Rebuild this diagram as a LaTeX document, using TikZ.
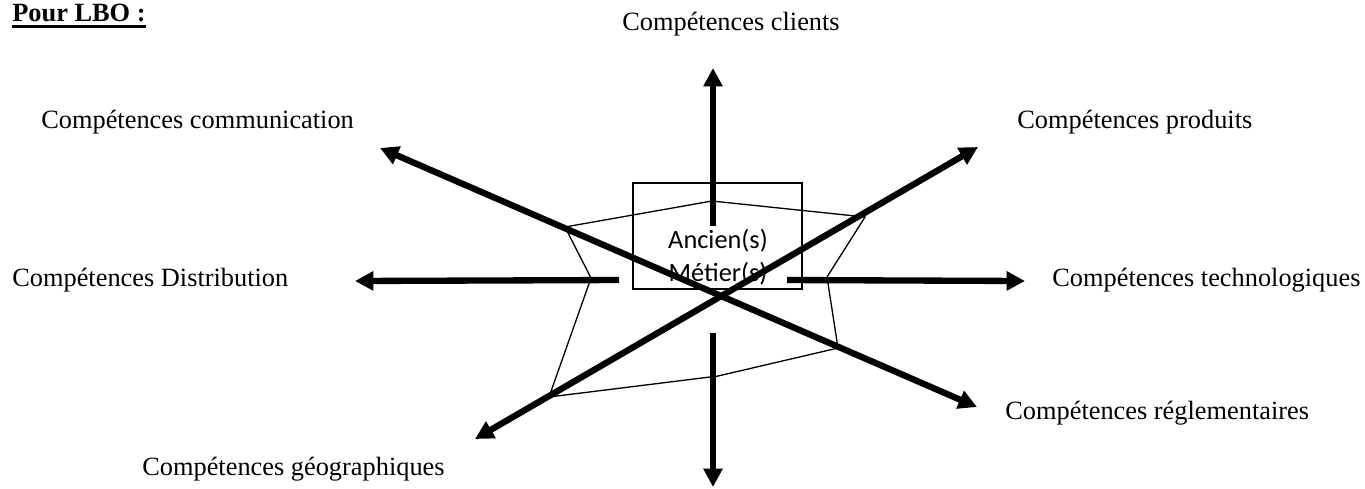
\documentclass[tikz,border=0pt]{standalone}
\usepackage{fontspec}
\setmainfont{Liberation Serif}
\newfontfamily\calibrifont{Carlito}
\usepackage{tikz}
\usetikzlibrary{arrows.meta}
\tikzstyle{skill} = [inner sep=0pt, anchor=base west, font=\fontsize{15}{18}\selectfont]
\tikzstyle{jobtext} = [inner sep=0pt, anchor=base, font=\calibrifont\fontsize{15}{18}\selectfont]
\tikzset{
  % line styles
  tip/.tip={Triangle[length=10.5pt,width=10.5pt]},
  axis/.style={line width=3.6pt, -tip},
  axes/.style={line width=3.6pt, tip-tip},
  web/.style={line width=0.75pt, line join=miter},
  % node styles
  oldjob/.style={draw, line width=0.7pt, minimum width=3.38cm, minimum height=2.12cm, inner sep=0pt},
}
\begin{document}
\begin{tikzpicture}[x=0.02cm, y=-0.02cm]
        \useasboundingbox (0,0) rectangle (1365,488);
        % title
        \node(title)[skill, font=\fontsize{15}{18}\selectfont\bfseries] at (12,21) {Pour LBO :};
        \draw[line width=1.4pt] ([yshift=-3pt]title.base west) -- ([yshift=-3pt]title.base east);
        % skill labels
        \node(clients)[skill, anchor=base] at (731,30) {Compétences clients};
        \node(communication)[skill] at (41,128) {Compétences communication};
        \node(produits)[skill] at (1017,128) {Compétences produits};
        \node(distribution)[skill] at (12,286) {Compétences Distribution};
        \node(techno)[skill] at (1052,286) {Compétences technologiques};
        \node(reglement)[skill] at (1005,419) {Compétences réglementaires};
        \node(geo)[skill] at (142,475) {Compétences géographiques};
        % centre box
        \node(job)[oldjob] at (717.5,236) {};
        \node(job1)[jobtext] at (718,248) {Ancien(s)};
        \node(job2)[jobtext] at (718,281) {Métier(s)};
        % web
        \coordinate(W1) at (712,201);
        \coordinate(W2) at (865,217);
        \coordinate(W3) at (827,277);
        \coordinate(W4) at (838,348);
        \coordinate(W5) at (718,376);
        \coordinate(W6) at (549,397);
        \coordinate(W7) at (591,278);
        \coordinate(W8) at (565,227);
        \draw[web] (W1) -- (W2) -- (W3) -- (W4) -- (W5) -- (W6) -- (W7) -- (W8) -- cycle;
        % axes
        \coordinate(A1) at (713,226);  \coordinate(B1) at (713,68);
        \coordinate(A2) at (713,333);  \coordinate(B2) at (713,487);
        \coordinate(A3) at (619,280);  \coordinate(B3) at (355,281);
        \coordinate(A4) at (787,280);  \coordinate(B4) at (1025,281);
        \coordinate(A5) at (380,148);  \coordinate(B5) at (977,407);
        \coordinate(A6) at (475,439);  \coordinate(B6) at (978,147);
        \draw[axis] (A1) -- (B1);
        \draw[axis] (A2) -- (B2);
        \draw[axis] (A3) -- (B3);
        \draw[axis] (A4) -- (B4);
        \draw[axes] (A5) -- (B5);
        \draw[axes] (A6) -- (B6);
\end{tikzpicture}
\end{document}
